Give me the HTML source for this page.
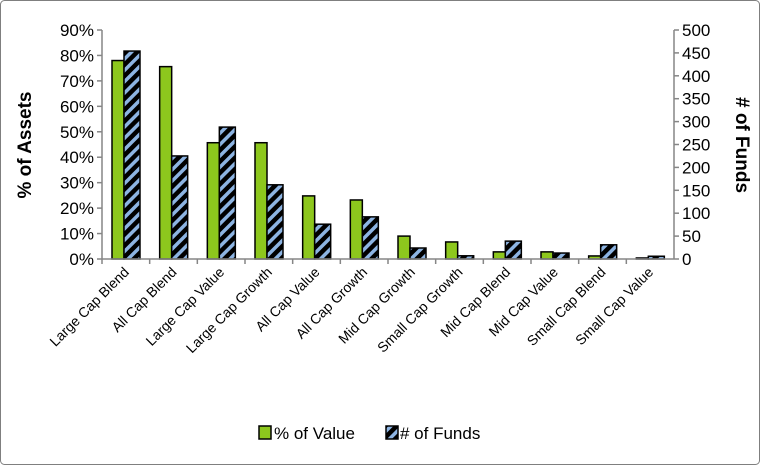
<!DOCTYPE html>
<html><head><meta charset="utf-8"><style>
body{margin:0;background:#fff;font-family:"Liberation Sans",Arial,sans-serif}
svg text{font-family:"Liberation Sans",Arial,sans-serif}
</style></head><body>
<svg id="c" width="760" height="465" xmlns="http://www.w3.org/2000/svg">
<defs>
<pattern id="hatch" patternUnits="userSpaceOnUse" width="8" height="8" patternTransform="rotate(45)">
<rect width="8" height="8" fill="#000"/><rect x="0" y="0" width="3.5" height="8" fill="#8db4e2"/>
</pattern>
</defs>
<rect x="0.5" y="0.5" width="759" height="464" rx="4" fill="#fff" stroke="#7f7f7f"/>
<g id="g"></g>
<text transform="translate(31,145) rotate(-90)" text-anchor="middle" font-size="19" font-weight="bold">% of Assets</text>
<text transform="translate(736,145) rotate(90)" text-anchor="middle" font-size="19" font-weight="bold"># of Funds</text>
<g>
<rect x="259" y="426" width="12" height="13" fill="#8dc71d" stroke="#000" stroke-width="1.5"/>
<text x="274" y="439" font-size="17">% of Value</text>
<rect x="386" y="426" width="12" height="13" fill="url(#hatch)" stroke="#000" stroke-width="1.5"/>
<text x="400" y="439" font-size="17"># of Funds</text>
</g>
</svg>
<script>
const categories=["Large Cap Blend","All Cap Blend","Large Cap Value","Large Cap Growth","All Cap Value","All Cap Growth","Mid Cap Growth","Small Cap Growth","Mid Cap Blend","Mid Cap Value","Small Cap Blend","Small Cap Value"];
const pctValue=[78,75.6,45.7,45.7,24.8,23.2,9,6.7,2.8,2.8,1.2,0.4];
const numFunds=[454,225,288,162,76,92,24,7,39,13,31,6];
const leftTicks=[0,10,20,30,40,50,60,70,80,90];
const rightTicks=[0,50,100,150,200,250,300,350,400,450,500];
const NS="http://www.w3.org/2000/svg";
const g=document.getElementById('g');
const X0=102,X1=674,Y0=259,Y1=30;
const cw=(X1-X0)/categories.length;
const yL=v=>Y0-(v/90)*(Y0-Y1);
const yR=v=>Y0-(v/500)*(Y0-Y1);
function mk(t,a){const e=document.createElementNS(NS,t);for(const k in a)e.setAttribute(k,a[k]);g.appendChild(e);return e;}
// axes
let ax=mk('line',{x1:X0,y1:Y1,x2:X0,y2:Y0,stroke:'#868686','stroke-width':1.5});


ax=mk('line',{x1:X1,y1:Y1,x2:X1,y2:Y0,stroke:'#868686','stroke-width':1.5});


leftTicks.forEach(v=>{
 const y=yL(v);
 mk('line',{x1:X0-5,y1:y,x2:X0,y2:y,stroke:'#868686','stroke-width':1.5});
 const t=mk('text',{x:X0-8,y:y+6,'text-anchor':'end','font-size':17});
 t.textContent=v+'%';
 
 
});
rightTicks.forEach(v=>{
 const y=yR(v);
 mk('line',{x1:X1,y1:y,x2:X1+5,y2:y,stroke:'#868686','stroke-width':1.5});
 const t=mk('text',{x:X1+8,y:y+6,'font-size':17});
 t.textContent=v;
 
 
});
categories.forEach((c,i)=>{
 const x=X0+i*cw;
 mk('line',{x1:x,y1:Y0,x2:x,y2:Y0+5,stroke:'#868686','stroke-width':1.5});
 const gv=mk('rect',{x:x+10,y:yL(pctValue[i]),width:12,height:Y0-yL(pctValue[i]),fill:'#8dc71d',stroke:'#000','stroke-width':1.5});
 
 
 const fb=mk('rect',{x:x+22,y:yR(numFunds[i]),width:16,height:Y0-yR(numFunds[i]),fill:'url(#hatch)',stroke:'#000','stroke-width':1.5});
 
 
 const cx=x+cw/2+4, cy=Y0+14;
 const t=mk('text',{x:cx,y:cy,'text-anchor':'end','font-size':14,transform:`rotate(-45 ${cx} ${cy})`});
 t.textContent=c;
 
 
});
mk('line',{x1:X0,y1:Y0,x2:X1,y2:Y0,stroke:'#868686','stroke-width':1.5});
</script>
</body></html>
